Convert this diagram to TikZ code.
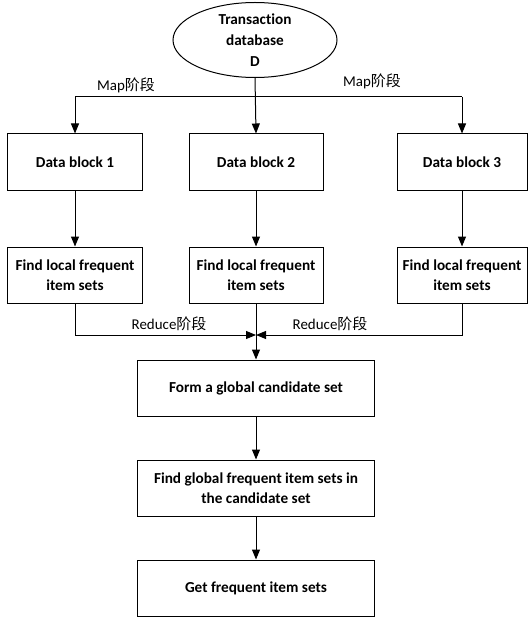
\documentclass[tikz,border=0pt]{standalone}
\usepackage{fontspec}
\setmainfont{Carlito}[RawFeature={-liga;-clig;-dlig;-hlig;-calt}]
\newfontfamily\cjk{Noto Sans CJK SC}
\usetikzlibrary{shapes.geometric,arrows.meta}

\begin{document}
\begin{tikzpicture}[
  x=1bp,y=-1bp,
  >={Triangle[width=8bp,length=10bp]},
  line width=1bp,
  blk/.style={draw,align=center,font=\fontsize{15.3}{19.5}\selectfont\bfseries,
              minimum width=134bp,minimum height=56bp,inner sep=2bp},
  wide/.style={blk,minimum width=237bp},
  lbl/.style={font=\fontsize{15}{18}\selectfont,inner sep=0pt},
  main/.style={->},
]
\useasboundingbox (0,0) rectangle (528,620);

\node[draw,ellipse,minimum width=164bp,minimum height=75bp,inner xsep=0pt,
      inner ysep=-4bp,align=center,font=\fontsize{15.3}{21}\selectfont\bfseries]
  (db) at (255,40) {Transaction\\database\\D};

% map stage
\node[blk] (blk1) at (75,162)  {Data block 1};
\node[blk] (blk2) at (256,162) {Data block 2};
\node[blk,minimum width=130bp] (blk3) at (462,162) {Data block 3};

\node[blk] (find1) at (75,275)  {Find local frequent\\item sets};
\node[blk] (find2) at (256,275) {Find local frequent\\item sets};
\node[blk,minimum width=130bp] (find3) at (462,275) {Find local frequent\\item sets};

% reduce stage
\node[wide] (form) at (256,388) {Form a global candidate set};
\node[wide] (glob) at (256,488) {Find global frequent item sets in\\the candidate set};
\node[wide] (get)  at (256,588) {Get frequent item sets};

\node[lbl] (mapa) at (126,85) {Map{\cjk 阶段}};
\node[lbl] (mapb) at (372,81) {Map{\cjk 阶段}};
\node[lbl] (reda) at (169,324) {Reduce{\cjk 阶段}};
\node[lbl] (redb) at (330,324) {Reduce{\cjk 阶段}};

\coordinate (mapl) at (75,97);
\coordinate (mapr) at (462,97);
\coordinate (join) at (256,335);

% the split
\draw (mapl) -- (mapr);
\draw[main] (db.south) -- (blk2.north);
\draw[main] (mapl) -- (blk1.north);
\draw[main] (mapr) -- (blk3.north);
\draw[main] (blk1) -- (find1);
\draw[main] (blk2) -- (find2);
\draw[main] (blk3) -- (find3);

% the merge
\draw[main] (find1.south) |- (join);
\draw[main] (find3.south) |- (join);
\draw (find2.south) -- (join);
\draw[main] (join) -- (form.north);
\draw[main] (form) -- (glob);
\draw[main] (glob) -- (get);

\end{tikzpicture}
\end{document}
